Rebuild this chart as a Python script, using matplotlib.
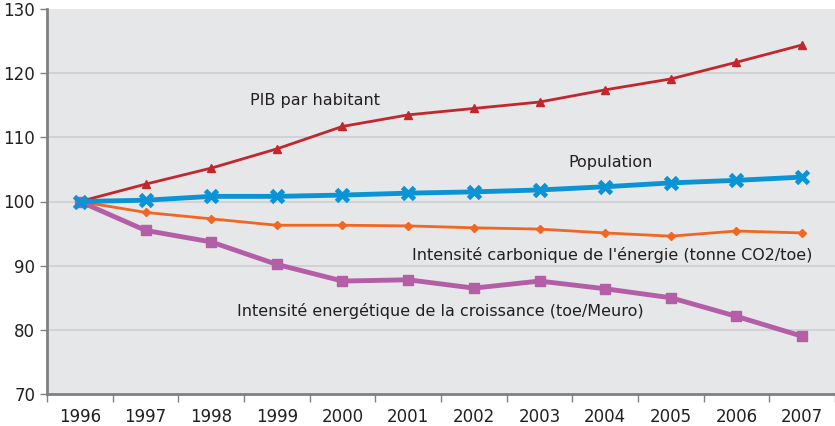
import numpy as np
import matplotlib
matplotlib.use('Agg')
from matplotlib import pyplot as plt

years = ['1996', '1997', '1998', '1999', '2000', '2001', '2002', '2003', '2004', '2005', '2006', '2007']
pib = [100, 102.7, 105.2, 108.2, 111.7, 113.5, 114.5, 115.5, 117.4, 119.1, 121.7, 124.4]
population = [100, 100.2, 100.8, 100.8, 101.0, 101.3, 101.5, 101.8, 102.3, 102.9, 103.3, 103.8]
carbone = [100, 98.3, 97.3, 96.3, 96.3, 96.2, 95.9, 95.7, 95.1, 94.6, 95.4, 95.1]
energie = [100, 95.5, 93.7, 90.2, 87.6, 87.8, 86.5, 87.6, 86.4, 85.0, 82.1, 79.0]

x = np.arange(len(years))

fig = plt.figure(figsize=(8.35, 4.26), dpi=100)
ax = fig.add_axes([47/835, 32/426, 788/835, 385/426])
ax.set_facecolor('#e6e7e8')

for v in range(80, 121, 10):
    ax.axhline(v, color='#cdced0', lw=1.2, zorder=1)

ax.plot(x, pib, color='#c1272d', lw=2, marker='^', ms=6, zorder=3)
ax.plot(x, carbone, color='#f26522', lw=2, marker='D', ms=4, zorder=3)
ax.plot(x, energie, color='#b45ea8', lw=3.5, marker='s', ms=7, zorder=3)
ax.plot(x, population, color='#0a94d6', lw=3.5, marker='x', ms=9, mew=3.5, zorder=4)

def label(px, py, s):
    # position en pixels (y depuis le haut)
    ax.annotate(s, xy=(px / 835, 1 - py / 426), xycoords='figure fraction',
                ha='left', va='center', fontsize=11.5, color='#231f20')

label(250, 101, 'PIB par habitant')
label(568, 162, 'Population')
label(412, 255, "Intensité carbonique de l'énergie (tonne CO2/toe)")
label(237, 311, 'Intensité energétique de la croissance (toe/Meuro)')

ax.set_xlim(-0.5, 11.5)
ax.set_ylim(70, 130)
ax.set_yticks(range(70, 131, 10))
ax.set_xticks(x)
ax.set_xticklabels(years)
ax.set_xticks(np.arange(-0.5, 11.6, 1), minor=True)
ax.tick_params(axis='x', which='major', length=0, labelsize=12, pad=10, colors='#231f20')
ax.tick_params(axis='x', which='minor', length=6, width=1, color='#808080')
ax.tick_params(axis='y', length=5, width=1, color='#808080', labelsize=12, labelcolor='#231f20')

for s in ['top', 'right']:
    ax.spines[s].set_visible(False)
for s in ['left', 'bottom']:
    ax.spines[s].set_color('#808080')
    ax.spines[s].set_linewidth(2)

fig.savefig('out.png', dpi=100)
